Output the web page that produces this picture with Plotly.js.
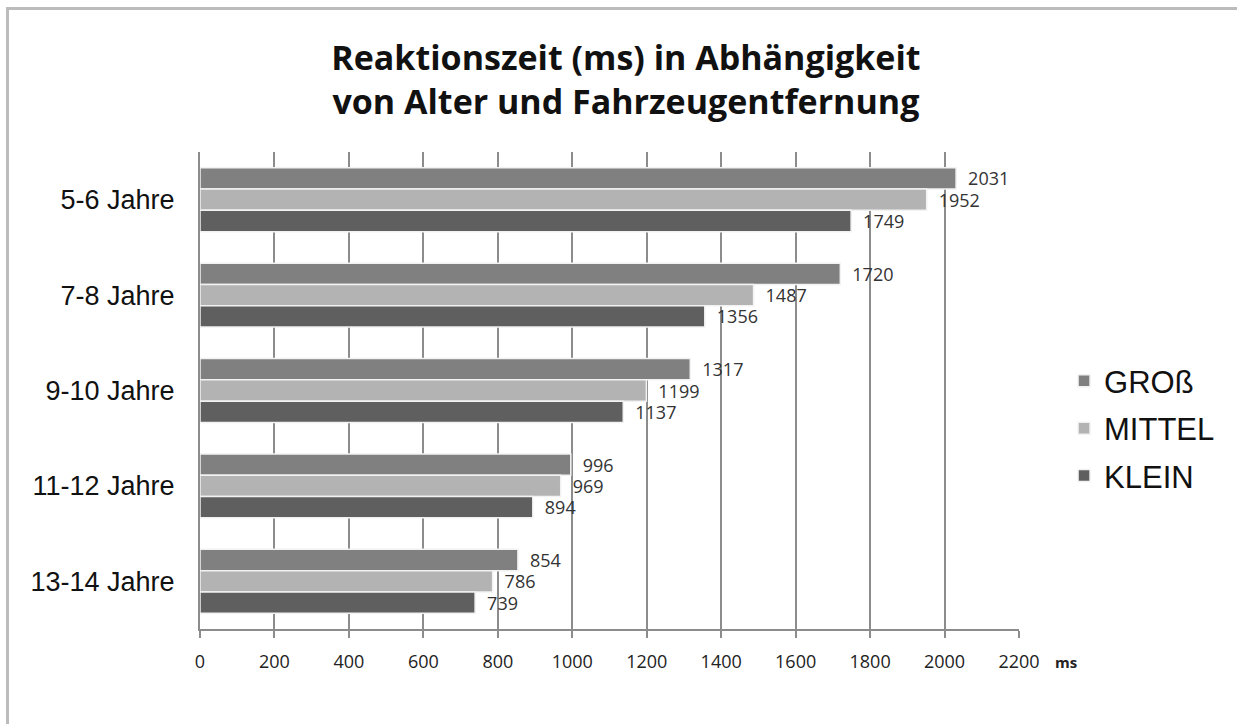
<!DOCTYPE html>
<html>
<head>
<meta charset="utf-8">
<script src="https://cdn.plot.ly/plotly-3.0.1.min.js"></script>
<style>
html,body{margin:0;padding:0;background:#fff;}
#wrap{position:relative;width:1237px;height:724px;}
#chart{position:absolute;left:0;top:0;width:1237px;height:724px;}
#frame{position:absolute;left:6px;top:7px;width:1231px;height:717px;border-top:3px solid #bcbcbc;border-left:3px solid #bcbcbc;pointer-events:none;}
</style>
</head>
<body>
<div id="wrap"><div id="chart"></div><div id="frame"></div></div>
<script>
const categories = ["5-6 Jahre", "7-8 Jahre", "9-10 Jahre", "11-12 Jahre", "13-14 Jahre"];
const seriesNames = ["GROß", "MITTEL", "KLEIN"];
const gross = [2031, 1720, 1317, 996, 854];
const mittel = [1952, 1487, 1199, 969, 786];
const klein = [1749, 1356, 1137, 894, 739];
const xTicks = [0, 200, 400, 600, 800, 1000, 1200, 1400, 1600, 1800, 2000, 2200];

const colors = ["#808080", "#b3b3b3", "#5f5f5f"];
const values = [gross, mittel, klein];

const traces = values.map((v, i) => ({
  type: "bar",
  orientation: "h",
  name: seriesNames[i],
  x: v,
  y: categories,
  legendgroup: "g" + i,
  marker: {color: colors[i], line: {color: "#f2f2f2", width: 1.5}},
  text: v.map(String),
  texttemplate: "\u2002%{text}",
  textposition: "outside",
  constraintext: "none",
  cliponaxis: false,
  textfont: {family: "Open Sans, sans-serif", size: 18, color: "#333"},
  hoverinfo: "x+name"
}));

const layout = {
  width: 1237, height: 724,
  margin: {l: 200, r: 218, t: 152, b: 95},
  paper_bgcolor: "#fff", plot_bgcolor: "#fff",
  barmode: "group",
  bargap: 0.33,
  bargroupgap: 0,
  title: {
    text: "Reaktionszeit (ms) in Abhängigkeit<br>von Alter und Fahrzeugentfernung",
    x: 0.506, xanchor: "center",
    y: 0.904, yanchor: "top",
    font: {family: "Open Sans, sans-serif", size: 34, color: "#111", weight: "bold"}
  },
  xaxis: {
    range: [0, 2200],
    tickvals: xTicks,
    ticktext: xTicks.map(String),
    showgrid: true, gridcolor: "#8c8c8c", gridwidth: 2,
    showline: true, linecolor: "#8c8c8c", linewidth: 2,
    ticks: "outside", ticklen: 7, tickwidth: 2, tickcolor: "#8c8c8c",
    ticklabelstandoff: 8,
    tickfont: {family: "Open Sans, sans-serif", size: 18, color: "#222"},
    zeroline: false, fixedrange: true
  },
  yaxis: {
    type: "category",
    autorange: "reversed",
    showgrid: false,
    showline: true, linecolor: "#8c8c8c", linewidth: 2,
    ticks: "",
    ticklabelstandoff: 18,
    tickfont: {family: "Liberation Sans, Arial, sans-serif", size: 27, color: "#111"},
    fixedrange: true
  },
  legend: {
    x: 1.055, xanchor: "left",
    y: 0.421, yanchor: "middle",
    traceorder: "grouped",
    tracegroupgap: 4,
    font: {family: "Liberation Sans, Arial, sans-serif", size: 31, color: "#111"},
    itemwidth: 30
  },
  annotations: [{
    xref: "x", yref: "paper", x: 2200, y: 0,
    xanchor: "left", yanchor: "middle", xshift: 34, yshift: -33,
    text: "<b>ms</b>", showarrow: false,
    font: {family: "Open Sans, sans-serif", size: 15, color: "#222"}
  }],
  showlegend: true
};

Plotly.newPlot("chart", traces, layout, {displayModeBar: false, staticPlot: true});
</script>
</body>
</html>
